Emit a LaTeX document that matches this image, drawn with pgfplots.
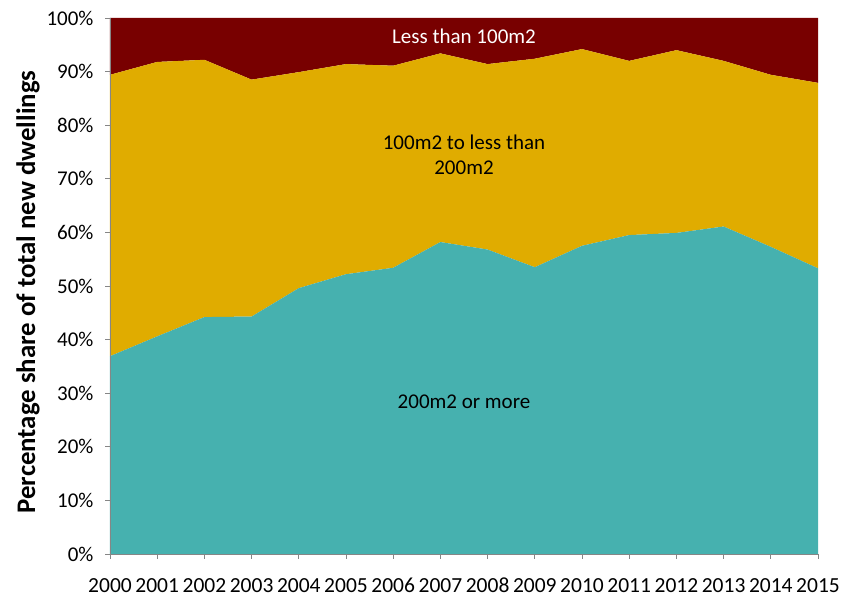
\documentclass[border=0pt]{standalone}
\usepackage{pgfplots}
\pgfplotsset{compat=1.18}
\usepackage{fontspec}
\setmainfont{Carlito}

\definecolor{smallred}{HTML}{780000}
\definecolor{midgold}{HTML}{E0AC00}
\definecolor{bigteal}{HTML}{46B1AF}
\definecolor{axisgray}{HTML}{868686}

\begin{document}
\begin{tikzpicture}
\begin{axis}[
  at={(0,0)}, anchor=south west,
  scale only axis,
  width=708bp, height=536bp,
  xmin=2000, xmax=2015,
  ymin=0, ymax=100,
  stack plots=y,
  axis on top,
  axis x line*=bottom,
  axis y line*=left,
  axis line style={draw=axisgray, line width=1pt},
  every outer x axis line/.append style={-},
  every outer y axis line/.append style={-},
  xtick={2000,2001,...,2015},
  ytick={0,10,...,100},
  tick align=outside,
  major tick length=5bp,
  tick style={draw=axisgray, line width=0.8pt},
  xticklabel style={/pgf/number format/1000 sep={}, font=\fontsize{21.5bp}{25bp}\selectfont,
    anchor=base, inner sep=0pt, yshift=-33bp},
  yticklabel={\pgfmathprintnumber{\tick}\%},
  yticklabel style={font=\fontsize{21bp}{25bp}\selectfont, xshift=-8bp},
  /pgf/number format/assume math mode=true,
  ylabel={\bfseries Percentage share of total new dwellings},
  ylabel style={font=\fontsize{26.8bp}{30bp}\selectfont, at={(ticklabel cs:0.5)}, xshift=-6bp},
  clip=false,
  extra description/.code={
    \node[white, font=\fontsize{21bp}{25bp}\selectfont] at (rel axis cs:0.5,0.965) {Less than 100m2};
    \node[black, align=center, font=\fontsize{21bp}{25bp}\selectfont] at (rel axis cs:0.5,0.744) {100m2 to less than\\200m2};
    \node[black, font=\fontsize{21bp}{25bp}\selectfont] at (rel axis cs:0.5,0.284) {200m2 or more};
  },
]
% 200m2 or more
\addplot[fill=bigteal, draw=none] coordinates {
  (2000,36.9) (2001,40.6) (2002,44.2) (2003,44.3) (2004,49.6) (2005,52.2)
  (2006,53.4) (2007,58.2) (2008,56.8) (2009,53.5) (2010,57.5) (2011,59.5)
  (2012,59.9) (2013,61.1) (2014,57.3) (2015,53.3)
} \closedcycle;
% 100m2 to less than 200m2
\addplot[fill=midgold, draw=none] coordinates {
  (2000,52.5) (2001,51.2) (2002,48.0) (2003,44.2) (2004,40.3) (2005,39.2)
  (2006,37.7) (2007,35.2) (2008,34.6) (2009,38.9) (2010,36.7) (2011,32.5)
  (2012,34.1) (2013,30.9) (2014,32.1) (2015,34.6)
} \closedcycle;
% Less than 100m2
\addplot[fill=smallred, draw=none] coordinates {
  (2000,10.6) (2001,8.2) (2002,7.8) (2003,11.5) (2004,10.1) (2005,8.6)
  (2006,8.9) (2007,6.6) (2008,8.6) (2009,7.6) (2010,5.8) (2011,8.0)
  (2012,6.0) (2013,8.0) (2014,10.6) (2015,12.1)
} \closedcycle;
\end{axis}
\pgfresetboundingbox
\path (-110bp,-42bp) rectangle (731bp,554bp);
\end{tikzpicture}
\end{document}
